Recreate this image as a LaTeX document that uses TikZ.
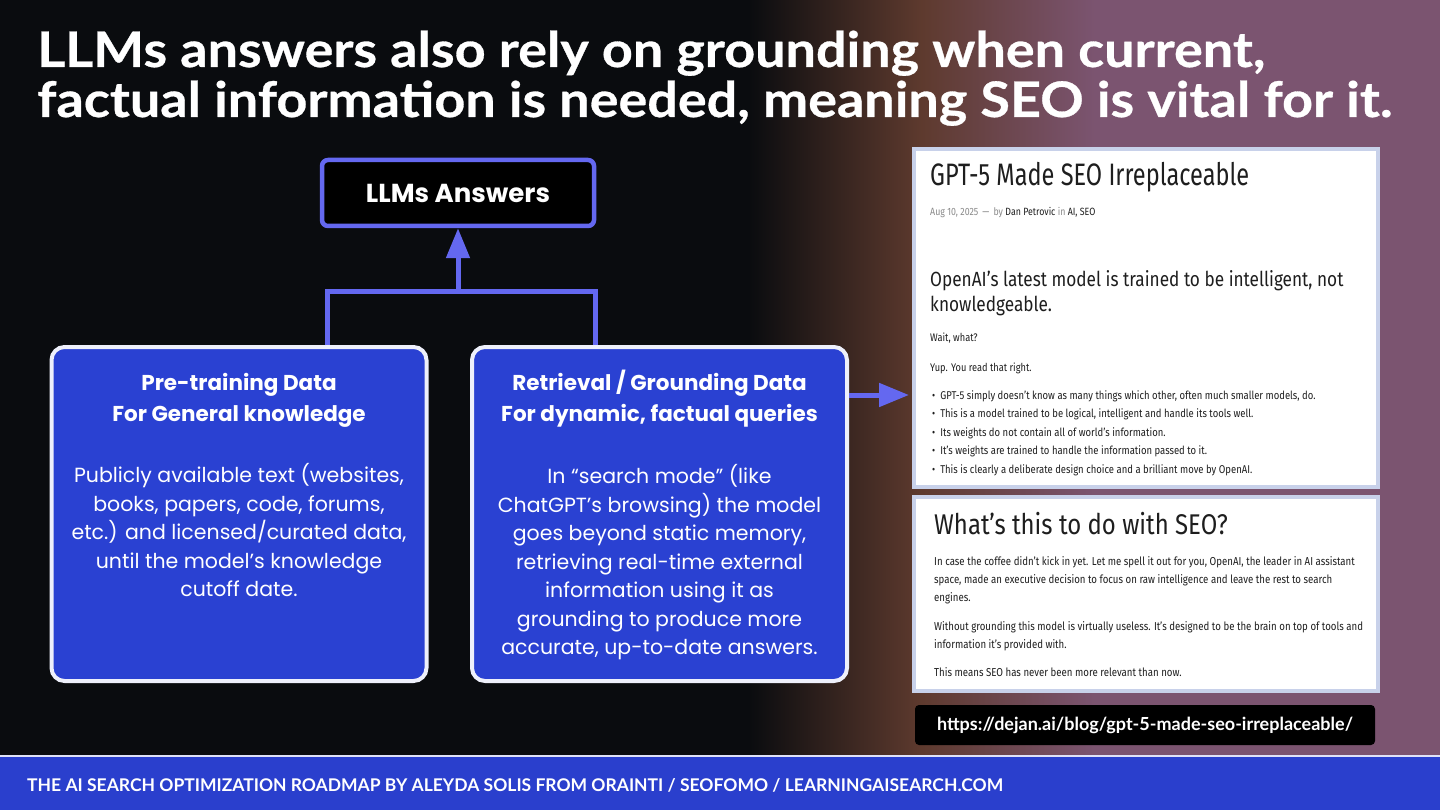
\documentclass[tikz,border=0pt]{standalone}
\usepackage{fontspec}
\setmainfont{Lato}
\newfontfamily\headfont[FakeStretch=1.1, BoldFeatures={FakeBold=0.6}]{Lato}
\newfontfamily\boxfont{Poppins}
\newfontfamily\shotfont[FakeStretch=0.84]{Fira Sans}
\newfontfamily\shothead[FakeStretch=0.76]{Fira Sans}
\usepackage{xcolor}
\usepackage{tikz}
\usetikzlibrary{arrows.meta,positioning,calc}

\definecolor{bgdark}{HTML}{0A0C0F}
\definecolor{plum}{HTML}{7B5470}
\definecolor{rust}{HTML}{5E3A2E}
\definecolor{boxblue}{HTML}{2A41D2}
\definecolor{barblue}{HTML}{2A3FCD}
\definecolor{linkblue}{HTML}{6468F0}
\definecolor{shotedge}{HTML}{C8D1EA}
\definecolor{ink}{HTML}{1E1E1E}
\definecolor{inkgrey}{HTML}{8A8A8A}

\newcommand{\fsz}[2]{\fontsize{#1}{#2}\selectfont}

\pgfdeclarehorizontalshading{backdrop}{100bp}{color(0bp)=(bgdark); color(51bp)=(bgdark);
  color(57bp)=(rust); color(63bp)=(plum); color(100bp)=(plum)}

\begin{document}
\begin{tikzpicture}[x=1pt, y=-1pt,
      databox/.style={rectangle, draw=white!92!boxblue, line width=4pt, fill=boxblue,
                      rounded corners=13pt, minimum width=375pt, minimum height=334pt},
      boxhead/.style={text=white, align=center, inner sep=0pt, font=\boxfont\fsz{21.5}{31}\bfseries},
      boxbody/.style={text=white, align=center, inner sep=0pt, font=\boxfont\fsz{20.5}{28.5}},
      shot/.style={rectangle, draw=shotedge, line width=4pt, fill=white,
                   minimum width=464pt, outer sep=0pt},
      shottxt/.style={anchor=base west, inner sep=0pt, align=left, text=ink},
      link/.style={draw=linkblue, line width=5pt},
      arr/.style={link, ->, >={Triangle[length=30pt, width=23pt]}},
    ]
    \useasboundingbox (0,0) rectangle (1440,810);

    % Backdrop + footer bar
    \shade[shading=backdrop] (0,0) rectangle (1440,756);
    \fill[barblue] (0,756) rectangle (1440,810);
    \draw[white!85!barblue, line width=1.5pt] (0,756) -- (1440,756);
    \node[anchor=base west, inner sep=0pt, text=white, font=\fsz{17.5}{20}\bfseries] (foot) at (27,791)
      {THE AI SEARCH OPTIMIZATION ROADMAP BY ALEYDA SOLIS FROM ORAINTI / SEOFOMO / LEARNINGAISEARCH.COM};

    % Headline
    \node[anchor=base west, inner sep=0pt, text=white, font=\headfont\fsz{49}{50}\bfseries] (head1) at (37,67)
      {LLMs answers also rely on grounding when current,};
    \node[anchor=base west, inner sep=0pt, text=white, font=\headfont\fsz{49}{50}\bfseries] (head2) at (37,117)
      {factual information is needed, meaning SEO is vital for it.};

    % Top: the answer
    \node[rectangle, draw=linkblue, line width=4.5pt, fill=black, rounded corners=6pt,
          minimum width=272pt, minimum height=66pt, text=white, font=\boxfont\fsz{26}{30}\bfseries]
      (ans) at (458,193) {LLMs Answers};

    % Bottom: the two data sources
    \node[databox] (pre) at (239,514) {};
    \node[databox] (ret) at (659.5,514) {};

    \node[boxhead, below=28pt of pre.north] (pretitle) {Pre-training Data\\For General knowledge};
    \node[boxbody, below=36pt of pretitle] (pretext)
      {Publicly available text (websites,\\books, papers, code, forums,\\etc.) and licensed/curated data,\\until the model’s knowledge\\cutoff date.};

    \node[boxhead, below=24.5pt of ret.north] (rettitle) {Retrieval / Grounding Data\\For dynamic, factual queries};
    \node[boxbody, below=37.5pt of rettitle] (rettext)
      {In “search mode” (like\\ChatGPT’s browsing) the model\\goes beyond static memory,\\retrieving real-time external\\information using it as\\grounding to produce more\\accurate, up-to-date answers.};

    % Bracket from both sources up to the answer
    \coordinate (jl) at (327,292);
    \coordinate (jr) at (595,292);
    \draw[link] (pre.north -| jl) -- (jl) -- (jr) -- (ret.north -| jr);
    \draw[arr] (ans.south |- jl) -- (ans.south);

    % Right: article screenshots (base anchor = last line)
    \node[shot, minimum height=338pt] (shota) at (1146,318) {};
    \node[shot, minimum height=194pt] (shotb) at (1146,594) {};

    \node[shottxt, font=\shothead\fsz{31}{36}] (s1title) at (930,186) {GPT-5 Made SEO Irreplaceable};
    \node[shottxt, font=\shotfont\fsz{10.5}{12}, text=inkgrey] (s1meta) at (930,216)
      {Aug 10, 2025 \,—\, by \textcolor{ink}{Dan Petrovic} in \textcolor{ink}{AI, SEO}};
    \node[shottxt, font=\shotfont\fsz{20.5}{25}] (s1lead) at (930,312)
      {OpenAI’s latest model is trained to be intelligent, not\\knowledgeable.};
    \node[shottxt, font=\shotfont\fsz{11}{12}] (s1wait) at (930,341) {Wait, what?};
    \node[shottxt, font=\shotfont\fsz{11}{12}] (s1yup) at (930,371) {Yup. You read that right.};
    \node[shottxt, font=\shotfont\fsz{11.3}{18.4}] (s1list) at (932,473)
      {\textbullet\hspace{5pt}GPT-5 simply doesn’t know as many things which other, often much smaller models, do.\\
       \textbullet\hspace{5pt}This is a model trained to be logical, intelligent and handle its tools well.\\
       \textbullet\hspace{5pt}Its weights do not contain all of world’s information.\\
       \textbullet\hspace{5pt}It’s weights are trained to handle the information passed to it.\\
       \textbullet\hspace{5pt}This is clearly a deliberate design choice and a brilliant move by OpenAI.};

    \node[shottxt, font=\shotfont\fsz{28.5}{32}] (s2title) at (934,534) {What’s this to do with SEO?};
    \node[shottxt, font=\shotfont\fsz{11.5}{18}] (s2para1) at (934,601)
      {In case the coffee didn’t kick in yet. Let me spell it out for you, OpenAI, the leader in AI assistant\\
       space, made an executive decision to focus on raw intelligence and leave the rest to search\\engines.};
    \node[shottxt, font=\shotfont\fsz{11.5}{18}] (s2para2) at (934,648)
      {Without grounding this model is virtually useless. It’s designed to be the brain on top of tools and\\
       information it’s provided with.};
    \node[shottxt, font=\shotfont\fsz{11.5}{18}] (s2para3) at (934,676)
      {This means SEO has never been more relevant than now.};

    % Source link
    \node[rectangle, fill=black, rounded corners=4pt, minimum width=460pt, minimum height=40pt,
          text=white, font=\fsz{18}{20}\bfseries] (url) at (1145,725)
      {https://dejan.ai/blog/gpt-5-made-seo-irreplaceable/};

    % Arrow: grounding data points to the article
    \draw[arr, shorten >=5pt] ([yshift=119pt]ret.east) -- ([yshift=119pt]ret.east -| shota.west);

\end{tikzpicture}
\end{document}
